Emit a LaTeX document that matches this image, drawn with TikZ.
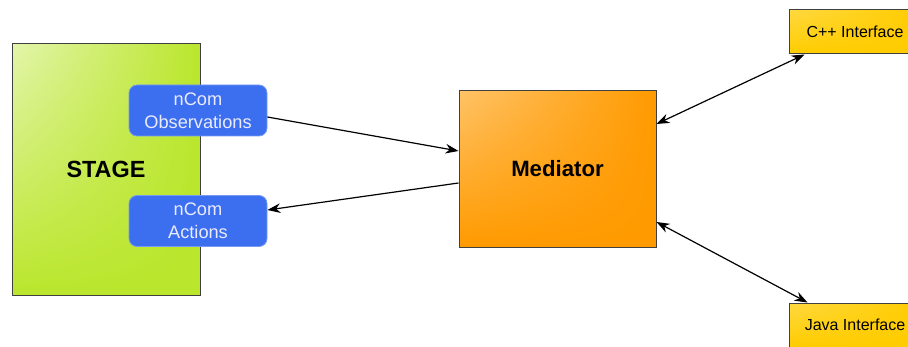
\documentclass[tikz,border=0pt]{standalone}
\usepackage{fontspec}
\setmainfont{Liberation Sans}
\usepackage{tikz}
\usetikzlibrary{positioning,arrows.meta,calc,shadings}
\definecolor{stagegreen}{HTML}{BAE62C}
\definecolor{ncomblue}{HTML}{3B6FF0}
\definecolor{medorange}{HTML}{FF9A00}
\definecolor{ifyellow}{HTML}{FFCC00}

\tikzset{
  block/.style={draw=black!75,line width=0.5pt,inner sep=0pt},
  ncom/.style={fill=ncomblue,draw=ncomblue!70!white,line width=0.4pt,rounded corners=4pt,
    minimum width=69pt,minimum height=25.5pt,align=center,text=white!92!blue,
    font=\fontsize{9.1}{11.5}\selectfont,inner sep=0pt},
  iface/.style={block,minimum width=66pt,minimum height=22pt,
    upper left=ifyellow!75!white,upper right=ifyellow,lower left=ifyellow,lower right=ifyellow,
    font=\fontsize{8}{9.5}\selectfont},
  link/.style={line width=0.6pt,-{Stealth[length=6.5pt,width=4.8pt]}},
  dlink/.style={link,{Stealth[length=6.5pt,width=4.8pt]}-{Stealth[length=6.5pt,width=4.8pt]}}
}

\begin{document}
\begin{tikzpicture}[x=0.5pt,y=-0.5pt]
  \useasboundingbox (0,0) rectangle (908,347);
  % stage and its two ports
  \node[block,minimum width=94pt,minimum height=125.5pt,
    upper left=stagegreen!40!white,upper right=stagegreen,lower left=stagegreen,lower right=stagegreen,
    font=\bfseries\fontsize{11.7}{13}\selectfont] (stage) at (106,169.5) {STAGE};
  \node[ncom] (obs) at (198,110.5) {nCom\\Observations};
  \node[ncom] (act) at (198,221) {nCom\\Actions};
  % mediator in the middle
  \node[block,minimum width=98.5pt,minimum height=78pt,
    upper left=medorange!60!white,upper right=medorange,lower left=medorange,lower right=medorange,
    font=\bfseries\fontsize{11.1}{13}\selectfont] (med) at (557.5,169) {Mediator};
  % language bindings, cut at the right edge
  \node[iface] (cpp) at (855,32) {C++ Interface};
  \node[iface] (java) at (855,325) {Java Interface};

  \draw[link] ([yshift=-3.25pt]obs.east) -- ([yshift=9pt]med.west);
  \draw[link] ([yshift=-7pt]med.west) -- ([yshift=5.5pt]act.east);
  \draw[dlink] ([yshift=22.5pt]med.east) -- ([xshift=8pt]cpp.south west);
  \draw[dlink] ([yshift=-26.5pt]med.east) -- ([xshift=9.5pt]java.north west);
\end{tikzpicture}
\end{document}
